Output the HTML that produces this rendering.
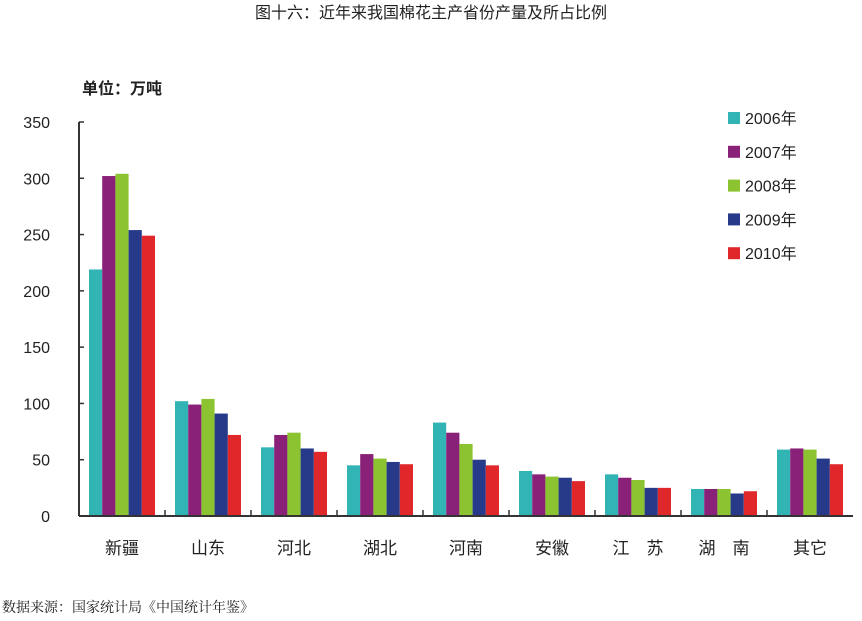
<!DOCTYPE html>
<html><head><meta charset="utf-8"><style>
body{margin:0;background:#fff;width:862px;height:616px;overflow:hidden;font-family:"Liberation Sans","Noto Sans CJK SC",sans-serif}
</style></head><body>
<svg id="c" width="862" height="616" font-family="Liberation Sans, Noto Sans CJK SC, sans-serif">
<text x="431" y="18" text-anchor="middle" font-size="16" fill="#222">图十六：近年来我国棉花主产省份产量及所占比例</text>
<text x="82" y="94" font-size="16" font-weight="bold" fill="#222">单位：万吨</text>
<text x="2" y="612" font-size="14" fill="#222" font-family="Liberation Serif, Noto Serif CJK SC, serif">数据来源：国家统计局《中国统计年鉴》</text>
<g id="plot"></g>
</svg>
<script>
const categories=["新疆","山东","河北","湖北","河南","安徽","江　苏","湖　南","其它"];
const years=["2006年","2007年","2008年","2009年","2010年"];
const s2006=[219,102,61,45,83,40,37,24,59];
const s2007=[302,99,72,55,74,37,34,24,60];
const s2008=[304,104,74,51,64,35,32,24,59];
const s2009=[254,91,60,48,50,34,25,20,51];
const s2010=[249,72,57,46,45,31,25,22,46];
const yTicks=[0,50,100,150,200,250,300,350];
const series=[s2006,s2007,s2008,s2009,s2010];
const colors=["#33b4b4","#8a2178","#8cc330","#273a8a","#e0282b"];
const NS="http://www.w3.org/2000/svg";
const g=document.getElementById('plot');
const x0=79,x1=853,y0=516,y1=122,yMax=350;
const cw=(x1-x0)/categories.length;
const ys=v=>y0-(v/yMax)*(y0-y1);
function el(t,a){const e=document.createElementNS(NS,t);for(const k in a)e.setAttribute(k,a[k]);g.appendChild(e);return e;}
series.forEach((s,si)=>{s.forEach((v,ci)=>{
 const bw=13.2;const bx=x0+ci*cw+10+si*bw;
 const r=el('rect',{x:bx,y:ys(v),width:bw,height:y0-ys(v),fill:colors[si]});
 
 
});});
const ya=el('line',{x1:x0,y1:y1,x2:x0,y2:y0,stroke:'#333','stroke-width':2});


const xa=el('line',{x1:x0,y1:y0,x2:x1,y2:y0,stroke:'#333','stroke-width':2});


yTicks.forEach(t=>{
 el('line',{x1:x0,y1:ys(t),x2:x0+5,y2:ys(t),stroke:'#333','stroke-width':1.5});
 const tx=el('text',{x:50,y:ys(t)+6,'text-anchor':'end','font-size':16,fill:'#222'});
 tx.textContent=t;
 
 
});
categories.forEach((c,i)=>{
 if(i>0) el('line',{x1:x0+i*cw,y1:y0,x2:x0+i*cw,y2:y0-6,stroke:'#333','stroke-width':1.5});
 const tx=el('text',{x:x0+(i+0.5)*cw,y:554,'text-anchor':'middle','font-size':17,fill:'#222'});
 tx.textContent=c;
 
 
});
years.forEach((y,i)=>{
 const yy=112+i*33.8;
 const r=el('rect',{x:728,y:yy,width:12,height:12,fill:colors[i]});
 
 
 const tx=el('text',{x:745,y:yy+12,'font-size':16,fill:'#222'});
 tx.textContent=y;
 
 
});
</script>
</body></html>
